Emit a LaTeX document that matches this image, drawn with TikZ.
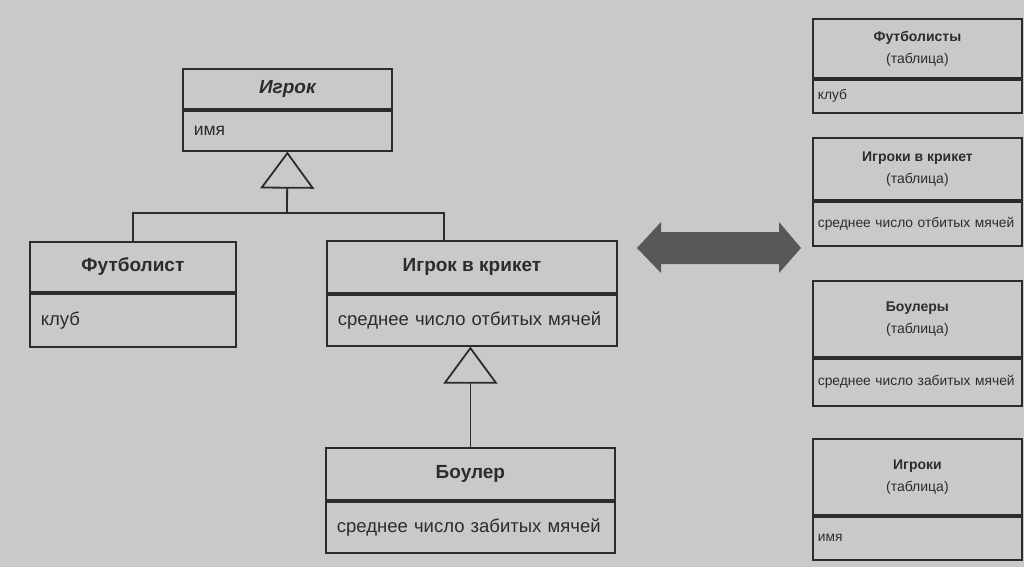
\documentclass[tikz,border=0pt]{standalone}
\usepackage{fontspec}
\setmainfont{Liberation Sans}
\usepackage{xcolor}
\usetikzlibrary{arrows.meta,calc,positioning}
\definecolor{pgBack}{HTML}{C9C9C9}
\definecolor{pgInk}{HTML}{2C2C2C}
\definecolor{pgArrow}{HTML}{585858}

\tikzset{
  hdr/.style={draw=pgInk, line width=1.8pt, text=pgInk, align=center, inner sep=0pt, anchor=north west,
    font=\fontsize{19}{22}\selectfont\bfseries},
  attr/.style={draw=pgInk, line width=1.8pt, text=pgInk, align=left, inner xsep=11pt, inner ysep=0pt,
    font=\fontsize{18.5}{22}\selectfont},
  tblhdr/.style={hdr, font=\fontsize{14}{22}\selectfont},
  tblattr/.style={attr, inner xsep=5pt, font=\fontsize{13.8}{16}\selectfont},
  link/.style={draw=pgInk, line width=1.8pt},
  gen/.style={link, -{Triangle[open, length=37pt, width=54pt]}}
}

\begin{document}
\begin{tikzpicture}[x=1pt, y=-1pt]
  \fill[pgBack] (0,0) rectangle (1024,567);
  \useasboundingbox (0,0) rectangle (1024,567);

  % classes
  \node[hdr, minimum width=209pt, minimum height=40pt] (playerH) at (182,68) {\itshape Игрок};
  \node[attr, text width=187pt, minimum height=40pt, below=0pt of playerH, font=\fontsize{17.5}{20}\selectfont] (playerA) {имя};
  \node[hdr, minimum width=206pt, minimum height=50pt] (footH) at (29,241) {Футболист};
  \node[attr, text width=184pt, minimum height=53pt, below=0pt of footH] (footA) {клуб};
  \node[hdr, minimum width=290pt, minimum height=52pt] (cricketH) at (326,240) {Игрок в крикет};
  \node[attr, text width=268pt, minimum height=51pt, below=0pt of cricketH] (cricketA) {среднее число отбитых мячей};
  \node[hdr, minimum width=289pt, minimum height=52pt] (bowlH) at (325,447) {Боулер};
  \node[attr, text width=267pt, minimum height=51pt, below=0pt of bowlH] (bowlA) {среднее число забитых мячей};

  % inheritance
  \coordinate (jn) at (287,213);
  \coordinate (jr) at (444,213);
  \draw[link] (footH.north) |- (jr) -- (jr |- cricketH.north);
  \draw[gen] (jn) -- (playerA.south);
  \draw[gen] (bowlH.north) -- (bowlH.north |- cricketA.south);

  % mapping
  \fill[pgArrow] (637,248) -- (661,222) -- (661,232) -- (779,232) -- (779,222) -- (801,248)
    -- (779,273) -- (779,264) -- (661,264) -- (661,273) -- cycle;

  % tables
  \node[tblhdr, minimum width=209pt, minimum height=59pt] (footT) at (812,18) {\textbf{Футболисты}\\(таблица)};
  \node[tblattr, text width=199pt, minimum height=33pt, below=0pt of footT] (footTA) {клуб};
  \node[tblhdr, minimum width=209pt, minimum height=62pt] (cricketT) at (812,137) {\textbf{Игроки в крикет}\\(таблица)};
  \node[tblattr, text width=199pt, minimum height=44pt, below=0pt of cricketT] (cricketTA) {среднее число отбитых мячей};
  \node[tblhdr, minimum width=209pt, minimum height=76pt] (bowlT) at (812,280) {\textbf{Боулеры}\\(таблица)};
  \node[tblattr, text width=199pt, minimum height=47pt, below=0pt of bowlT] (bowlTA) {среднее число забитых мячей};
  \node[tblhdr, minimum width=209pt, minimum height=76pt] (playerT) at (812,438) {\textbf{Игроки}\\(таблица)};
  \node[tblattr, text width=199pt, minimum height=43pt, below=0pt of playerT] (playerTA) {имя};
\end{tikzpicture}
\end{document}
